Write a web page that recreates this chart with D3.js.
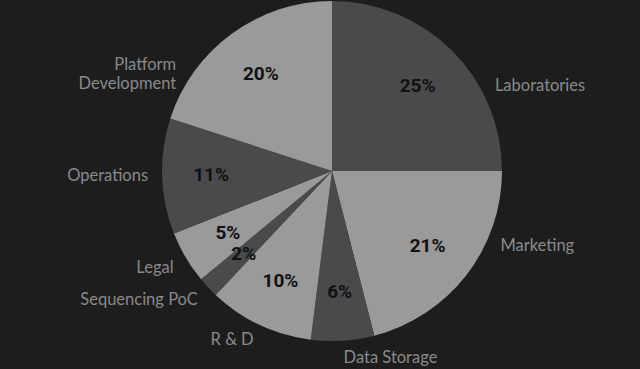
<!DOCTYPE html>
<html>
<head>
<meta charset="utf-8">
<script src="https://cdn.jsdelivr.net/npm/d3@7"></script>
<style>
  html, body { margin: 0; padding: 0; background: #1d1d1d; }
  svg { display: block; }
</style>
</head>
<body>
<svg id="chart" width="640" height="369"></svg>
<script>
// slice data, clockwise from 12 o'clock
const categories = ['Laboratories', 'Marketing', 'Data Storage', 'R & D',
  'Sequencing PoC', 'Legal', 'Operations', 'Platform Development'];
const values = [25, 21, 6, 10, 2, 5, 11, 20];
const colors = ['#4a4a4c', '#9a9a9a', '#4a4a4c', '#9a9a9a',
  '#4a4a4c', '#9a9a9a', '#4a4a4c', '#9a9a9a'];

const width = 640, height = 369;
const cx = 332, cy = 171;
const radius = 170;
const labelRadius = 121;
const outerRadius = radius + 14;

const svg = d3.select('#chart');
const chart = svg.append('g')
  .attr('transform', 'translate(' + cx + ',' + cy + ')');

const rows = categories.map((c, i) => ({name: c, value: values[i], color: colors[i]}));

const pie = d3.pie()
  .sort(null)
  .value(d => d.value);

const arc = d3.arc()
  .innerRadius(0)
  .outerRadius(radius);

const arcs = pie(rows);

chart.selectAll('.slice')
  .data(arcs)
  .enter().append('path')
  .attr('class', 'slice')
  .attr('d', arc)
  .style('fill', d => d.data.color);

const total = d3.sum(values);
const mid = d => (d.startAngle + d.endAngle) / 2;

// percent labels inside slices
chart.selectAll('.pct')
  .data(arcs)
  .enter().append('text')
  .attr('class', 'pct')
  .attr('x', d => labelRadius * Math.sin(mid(d)))
  .attr('y', d => -labelRadius * Math.cos(mid(d)))
  .attr('text-anchor', 'middle')
  .attr('dominant-baseline', 'central')
  .style('font-family', 'Roboto, sans-serif')
  .style('font-weight', 700)
  .style('font-size', '19px')
  .style('fill', '#111')
  .text(d => Math.round(d.data.value / total * 100) + '%');

// category labels outside: big slices line up with their percent label,
// small ones sit on a circle just outside the pie
function outerPos(d) {
  const a = mid(d);
  if (d.data.value > 10) {
    const y = -labelRadius * Math.cos(a);
    const x = Math.sqrt(outerRadius * outerRadius - y * y) * (Math.sin(a) >= 0 ? 1 : -1);
    return [x, y];
  }
  return [outerRadius * Math.sin(a), -outerRadius * Math.cos(a) + 2];
}

const names = chart.selectAll('.name')
  .data(arcs)
  .enter().append('text')
  .attr('class', 'name')
  .attr('text-anchor', d => Math.sin(mid(d)) >= 0 ? 'start' : 'end')
  .attr('dominant-baseline', 'central')
  .style('font-family', 'Lato, sans-serif')
  .style('font-size', '16.5px')
  .style('fill', '#8a8a8a');

names.each(function(d) {
  const [x, y] = outerPos(d);
  const words = d.data.name === 'Platform Development' ? ['Platform', 'Development'] : [d.data.name];
  const lh = 19;
  words.forEach((w, j) => {
    d3.select(this).append('tspan')
      .attr('x', x)
      .attr('y', y + (j - (words.length - 1) / 2) * lh)
      .text(w);
  });
});
</script>
</body>
</html>
